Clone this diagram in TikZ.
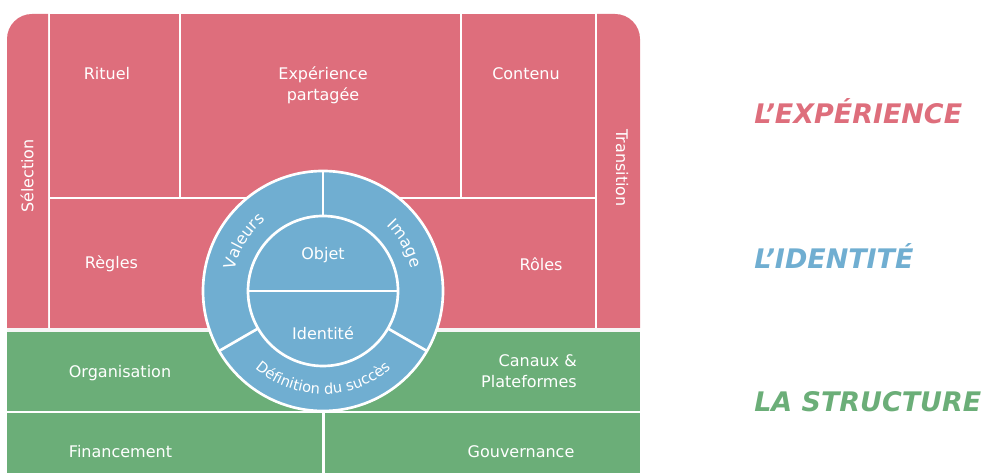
\documentclass[tikz,border=0pt]{standalone}
\usepackage{fontspec}
\setmainfont{DejaVu Sans}
\usetikzlibrary{shapes,calc,decorations.text}
\definecolor{expc}{RGB}{222,110,124}
\definecolor{idc}{RGB}{112,174,209}
\definecolor{strc}{RGB}{107,174,120}
\newcommand{\pxu}{0.75pt}
\tikzset{
  blk/.style={rectangle,inner sep=0pt,outer sep=0pt},
  lbl/.style={text=white,font=\fontsize{12}{15.5}\selectfont,align=center,inner sep=0pt},
  ttl/.style={font=\fontsize{20.2}{24}\selectfont\bfseries\itshape,anchor=west,inner sep=0pt},
  ringtxt/.style 2 args={decorate,decoration={text along path,text align=center,
    text={|\color{white}\fontsize{#1}{14}\selectfont|#2}}}
}

\begin{document}
\begin{tikzpicture}[x=0.75pt,y=0.75pt]
\useasboundingbox (0,0) rectangle (984,473);
\begin{scope}[expc]
  \fill (7,145) -- (7,434) arc[start angle=180,end angle=90,radius=25] -- (48,459) -- (48,145) -- cycle;
  \fill (597,145) -- (597,459) -- (615,459) arc[start angle=90,end angle=0,radius=25] -- (640,145) -- cycle;
  \node[blk,fill,minimum width=129*\pxu,minimum height=183*\pxu] (RIT) at (114.5,367.5) {};
  \node[blk,fill,minimum width=279*\pxu,minimum height=183*\pxu] (EXP) at (320.5,367.5) {};
  \node[blk,fill,minimum width=133*\pxu,minimum height=183*\pxu] (CON) at (528.5,367.5) {};
  \node[blk,fill,minimum width=273*\pxu,minimum height=129*\pxu] (REG) at (186.5,209.5) {};
  \node[blk,fill,minimum width=272*\pxu,minimum height=129*\pxu] (ROL) at (459,209.5) {};
\end{scope}
\fill[gray!7] (7,141) rectangle (640,145);
\begin{scope}[strc]
  \node[blk,fill,minimum width=316.5*\pxu,minimum height=79*\pxu] (ORG) at (165.25,101.5) {};
  \node[blk,fill,minimum width=316.5*\pxu,minimum height=79*\pxu] (CAN) at (481.75,101.5) {};
  \node[blk,fill,minimum width=315*\pxu,minimum height=60*\pxu] (FIN) at (164.5,30) {};
  \node[blk,fill,minimum width=315*\pxu,minimum height=60*\pxu] (GOV) at (482.5,30) {};
\end{scope}
% labels of the blocks
\node[lbl,rotate=90] (SELT) at (27,297) {Sélection};
\node[lbl,rotate=-90] (TRAT) at (622,305) {Transition};
\node[lbl] (RITT) at (107,399) {Rituel};
\node[lbl] (EXPT) at (323,388) {Expérience\\partagée};
\node[lbl] (CONT) at (526,399) {Contenu};
\node[lbl] (REGT) at (111.5,209) {Règles};
\node[lbl] (ROLT) at (541,209) {Rôles};
\node[lbl] (ORGT) at (120,100) {Organisation};
\node[lbl,align=right,anchor=east] (CANT) at (577,102) {Canaux \&\\Plateformes};
\node[lbl] (FINT) at (120.5,21) {Financement};
\node[lbl] (GOVT) at (521,21) {Gouvernance};
% identity circle
\node[circle,fill=idc,draw=white,line width=2pt,outer sep=0pt,minimum size=240*\pxu] (RING) at (323,182) {};
\node[circle,fill=idc,draw=white,line width=2pt,outer sep=0pt,minimum size=150*\pxu] (CORE) at (323,182) {};
\draw[white,line width=2pt] (CORE.west) -- (CORE.east);
\foreach\a in {90,210,330} {
  \draw[white,line width=2pt] (CORE.\a) -- (RING.\a);
}
\node[lbl] (OBJT) at (323,218) {Objet};
\node[lbl] (IDT) at (323,140) {Identité};
\path[ringtxt={12}{Valeurs}] (RING.center) ++(178:91) arc[start angle=178,end angle=118,radius=91];
\path[ringtxt={12}{Image}] (RING.center) ++(60:91) arc[start angle=60,end angle=0,radius=91];
\path[ringtxt={11}{Définition du succès}] (RING.center) ++(200:103) arc[start angle=200,end angle=340,radius=103];
% titles
\node[ttl,text=expc] (TEXP) at (754,362) {L’EXPÉRIENCE};
\node[ttl,text=idc] (TID) at (754,217) {L’IDENTITÉ};
\node[ttl,text=strc] (TSTR) at (754,71) {LA STRUCTURE};
\end{tikzpicture}
\end{document}
